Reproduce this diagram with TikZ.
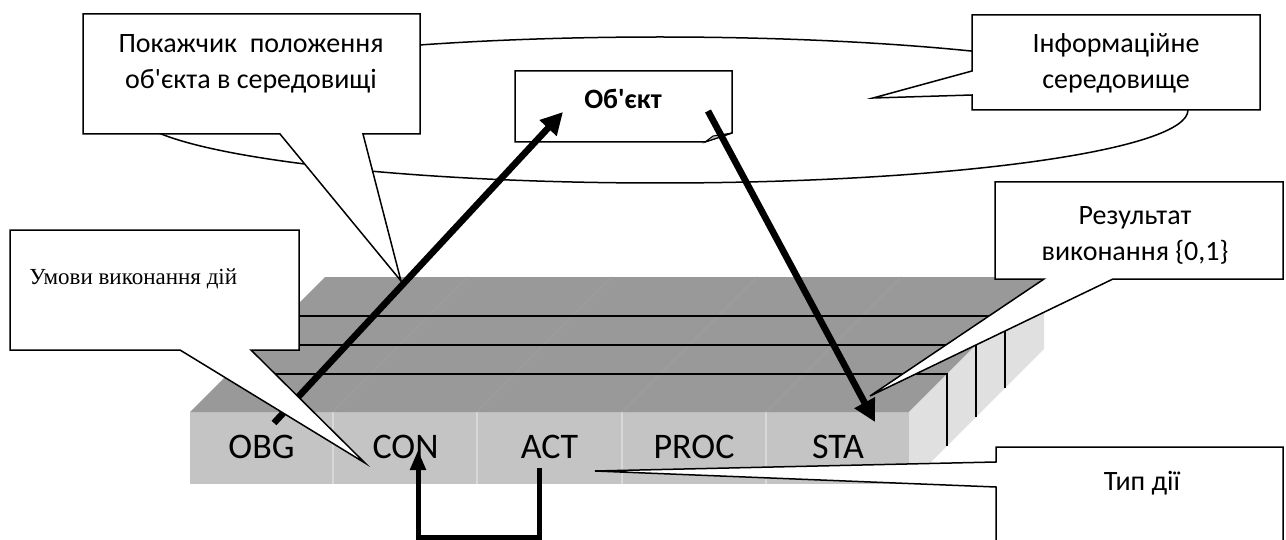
\documentclass[tikz,border=0pt]{standalone}
\usepackage{fontspec}
\setmainfont{Carlito}[Ligatures=TeXOff]
\newfontfamily\condfont{Liberation Serif}[Ligatures=TeXOff]
\usetikzlibrary{arrows.meta}

\definecolor{frontgray}{HTML}{C4C4C4}
\definecolor{topgray}{HTML}{999999}
\definecolor{sidegray}{HTML}{E0E0E0}
\definecolor{divgray}{HTML}{D8D8D8}
\definecolor{faintgray}{HTML}{9F9F9F}
\definecolor{foldgray}{HTML}{BDBDBD}

\begin{document}
\begin{tikzpicture}[x=0.5pt,y=-0.5pt,
  thinline/.style={line width=0.75pt, draw=black},
  callout/.style={thinline, fill=white, line join=miter},
  layerline/.style={line width=0.75pt, draw=black},
  bigarrow/.style={line width=3.3pt, draw=black, -{Triangle[length=11pt,width=11pt]}},
  loopback/.style={line width=2.5pt, draw=black, line join=miter, -{Triangle[length=10pt,width=7.5pt]}},
  fieldlbl/.style={font=\fontsize{18}{21}\selectfont, anchor=base, inner sep=0pt},
  calltext/.style={font=\fontsize{14}{17}\selectfont, anchor=base, inner sep=0pt},
]
\useasboundingbox (0,0) rectangle (1286,540);

% information environment
\draw[thinline] (660,110) ellipse [x radius=528, y radius=73];

% record slab: front face with five fields
\fill[frontgray] (190,412) rectangle (909,484);
\foreach \x in {333,477,622,766}
  \draw[divgray, line width=1pt] (\x,412) -- (\x,484);
% top face
\fill[topgray] (190,412) -- (909,412) -- (1044,277) -- (325,277) -- cycle;
\foreach \x in {333,477,622,766}
  \draw[faintgray, line width=0.5pt] (\x,412) -- ++(135,-135);
% side face
\fill[sidegray] (909,412) -- (909,484) -- (1044,349) -- (1044,277) -- cycle;
% stacked layers
\foreach \d in {39,68,97}
  \draw[layerline] (325-\d,277+\d) -- (1044-\d,277+\d) -- (1044-\d,349+\d);

% pointer callout
\draw[callout] (83,14) -- (420,14) -- (420,134) -- (363,134) -- (401,281)
  -- (280,134) -- (83,134) -- cycle;
% environment callout
\draw[callout] (972,15) -- (1260,15) -- (1260,110) -- (972,110) -- (972,95)
  -- (873,98) -- (972,71) -- cycle;
% object note with folded corner
\draw[callout] (515,71) -- (732,71) -- (732,133) -- (705,142) -- (515,142) -- cycle;
\filldraw[fill=foldgray, draw=black, line width=0.5pt] (705,142) -- (713,136) -- (732,133) -- cycle;
% result callout
\draw[callout] (995,182) -- (1283,182) -- (1283,279) -- (1113,279) -- (870,396)
  -- (1044,279) -- (995,279) -- cycle;

% field labels
\node[fieldlbl] (obg)  at (261.5,458) {OBG};
\node[fieldlbl] (con)  at (405.5,458) {CON};
\node[fieldlbl] (act)  at (549.5,458) {ACT};
\node[fieldlbl] (proc) at (694,458)   {PROC};
\node[fieldlbl] (sta)  at (838,458)   {STA};

% link from the record to the object
\coordinate (obgFoot) at (274,423);
\coordinate (objIn) at (563,112);
\draw[bigarrow] (obgFoot) -- (objIn);

% conditions callout
\draw[callout] (10,230) -- (299,230) -- (299,350) -- (251,350) -- (365,463)
  -- (180,350) -- (10,350) -- cycle;

% link from the object back to the status field
\coordinate (objOut) at (708,111);
\coordinate (staIn) at (875,422);
\draw[bigarrow] (objOut) -- (staIn);

% action type callout
\draw[callout] (996,447) -- (1283,447) -- (1283,570) -- (996,570) -- (996,487)
  -- (595,471) -- (996,462) -- cycle;

% feedback from ACT to CON
\coordinate (actFoot) at (539,468);
\coordinate (conIn) at (418,450);
\draw[loopback] (actFoot) -- ++(0,69) -| (conIn);

% callout texts
\node[calltext] (ptr1) at (251,53) {Покажчик~ положення};
\node[calltext] (ptr2) at (251,89) {об'єкта в середовищі};
\node[calltext] (env1) at (1116,53) {Інформаційне};
\node[calltext] (env2) at (1116,89) {середовище};
\node[calltext, font=\fontsize{14}{17}\selectfont\bfseries] (obj) at (623,109) {Об'єкт};
\node[calltext] (res1) at (1135,225) {Результат};
\node[calltext] (res2) at (1135,260) {виконання \{0,1\}};
\node[calltext] (type) at (1142,490) {Тип дії};
\node[anchor=base west, inner sep=0pt, font=\condfont\fontsize{11.5}{13}\selectfont] (cond) at (29,285) {Умови виконання дій};
\end{tikzpicture}
\end{document}
